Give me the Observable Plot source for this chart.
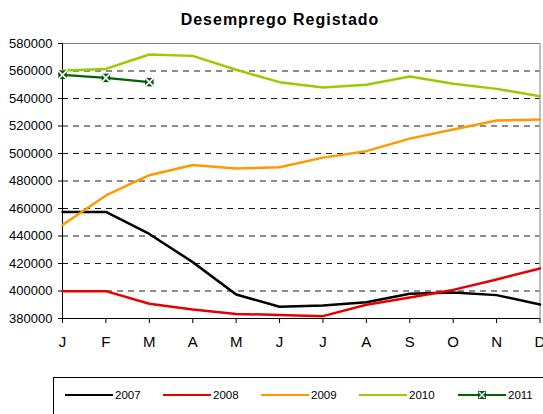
<!DOCTYPE html>
<html>
<head>
<meta charset="utf-8">
<script src="https://cdn.jsdelivr.net/npm/d3@7"></script>
<script src="https://cdn.jsdelivr.net/npm/@observablehq/plot@0.6"></script>
<style>
  html, body { margin: 0; padding: 0; background: white; overflow: hidden; }
  body { width: 543px; height: 414px; position: relative; font-family: "Liberation Sans", Arial, sans-serif; }
  #title { position: relative; height: 30px; }
  #title span { position: absolute; top: 11.5px; left: 0; width: 560px; text-align: center; font-weight: bold; font-size: 16px; line-height: 1; letter-spacing: 1px; color: #000; }
  #legend { position: absolute; left: 53px; top: 377px; width: 520px; height: 45px; border: 1px solid #000; box-sizing: border-box; }
  .li { position: absolute; top: 16px; height: 1px; }
  .lt { position: absolute; top: 12px; font-size: 11.5px; line-height: 1; color: #000; }
</style>
</head>
<body>
<div id="title"><span>Desemprego Registado</span></div>
<div id="chart"></div>
<div id="legend"></div>
<script>
const months = ["J","F","M","A","M","J","J","A","S","O","N","D"];
const years = ["2007","2008","2009","2010","2011"];
const colors = ["#000000","#e80000","#ff9900","#99cc00","#006400"];
const y2007 = [457500, 457500, 441500, 421000, 397500, 388500, 389500, 391800, 398000, 398900, 397000, 390200];
const y2008 = [399900, 399900, 390700, 386500, 383300, 382600, 381700, 390000, 395300, 400800, 408400, 416400];
const y2009 = [448000, 469500, 484200, 491600, 489100, 490000, 497000, 501700, 510800, 517500, 524000, 524700];
const y2010 = [560400, 561500, 572000, 571000, 560900, 551900, 548000, 550000, 556000, 550700, 547000, 541700];
const y2011 = [557200, 555000, 551900];
const yTicks = [380000, 400000, 420000, 440000, 460000, 480000, 500000, 520000, 540000, 560000, 580000];

const series = [y2007, y2008, y2009, y2010, y2011];
const rows = [];
series.forEach((arr, k) => arr.forEach((v, i) => rows.push({year: years[k], m: i, v})));
const rows2011 = rows.filter(d => d.year === "2011");
const rowsOld = rows.filter(d => d.year !== "2011");

const chart = Plot.plot({
  width: 543,
  height: 345,
  marginTop: 13,
  marginBottom: 57,
  marginLeft: 62,
  marginRight: 3.5,
  style: {fontFamily: "'Liberation Sans', Arial, sans-serif", fontSize: "13px", color: "#000", background: "white", overflow: "visible"},
  x: {type: "linear", domain: [0, 11]},
  y: {domain: [380000, 580000]},
  color: {domain: years, range: colors},
  marks: [
    Plot.ruleY(yTicks.slice(1, -1), {stroke: "#1a1a1a", strokeWidth: 1, strokeDasharray: "6,5"}),
    Plot.ruleY([580000], {stroke: "#808080", strokeWidth: 1}),
    Plot.ruleX([11], {stroke: "#808080", strokeWidth: 1}),
    Plot.axisY({ticks: yTicks, tickSize: 4, tickPadding: 6, tickFormat: d3.format("d"), fontSize: 13, label: null, stroke: "#000", strokeOpacity: 1}),
    Plot.axisX({ticks: d3.range(12), tickSize: 5, tickPadding: 13, tickFormat: i => months[i], fontSize: 15, label: null, stroke: "#000", strokeOpacity: 1}),
    Plot.ruleX([0], {stroke: "#000", strokeWidth: 1}),
    Plot.ruleY([380000], {stroke: "#000", strokeWidth: 1}),
    Plot.line(rowsOld, {x: "m", y: "v", z: "year", stroke: "year", strokeWidth: 2.5}),
    Plot.line(rows2011, {x: "m", y: "v", z: "year", stroke: "year", strokeWidth: 2.2}),
    Plot.dot(rows2011, {x: "m", y: "v", symbol: "square", r: 4.8, fill: "#0b5418", stroke: "none"}),
    Plot.dot(rows2011, {x: "m", y: "v", symbol: "times", r: 4.6, stroke: "white", strokeWidth: 1.6})
  ]
});
document.getElementById("chart").appendChild(chart);

// legend
const legend = document.getElementById("legend");
const lx = [11, 109, 207, 305, 404]; // relative to legend box left
years.forEach((y, k) => {
  const line = document.createElement("div");
  line.className = "li";
  line.style.left = lx[k] + "px";
  line.style.width = "48px";
  line.style.borderTop = "2px solid " + colors[k];
  legend.appendChild(line);
  if (k === 4) {
    const svgNS = "http://www.w3.org/2000/svg";
    const s = document.createElementNS(svgNS, "svg");
    s.setAttribute("width", 10); s.setAttribute("height", 10);
    s.style.position = "absolute"; s.style.left = (lx[k] + 19) + "px"; s.style.top = "12px";
    s.innerHTML = '<rect x="1" y="1" width="8" height="8" fill="#0b5418"/><path d="M2,2L8,8M8,2L2,8" stroke="white" stroke-width="1.4"/>';
    legend.appendChild(s);
  }
  const t = document.createElement("div");
  t.className = "lt";
  t.style.left = (lx[k] + 50) + "px";
  t.textContent = y;
  legend.appendChild(t);
});
</script>
</body>
</html>
